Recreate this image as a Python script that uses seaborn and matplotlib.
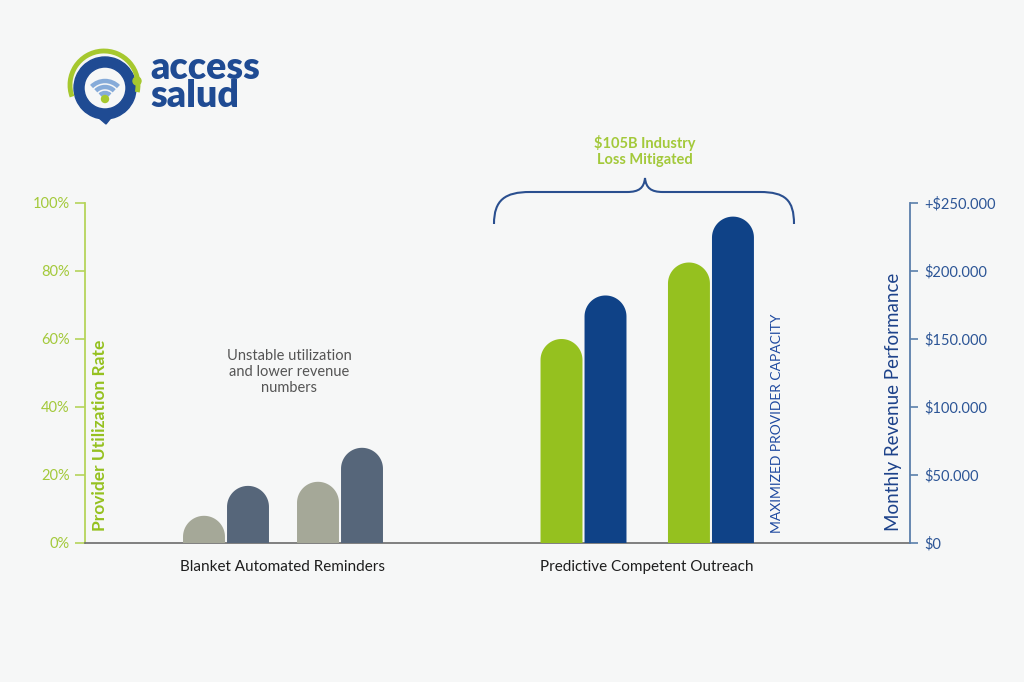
import matplotlib
matplotlib.use("Agg")
import numpy as np
import pandas as pd
import seaborn as sns
import matplotlib.pyplot as plt
from matplotlib.path import Path
from matplotlib.patches import PathPatch, Circle, Arc, Wedge, Polygon

# ---------------- data ----------------
approaches = ["Blanket Automated Reminders", "Blanket Automated Reminders",
              "Predictive Competent Outreach", "Predictive Competent Outreach"]
periods = ["Before 1", "Before 2", "After 1", "After 2"]
utilization = [8, 18, 60, 82.5]            # % (left axis)
revenue = [42000, 70000, 182000, 240000]   # $ (right axis)
util_ticks = [0, 20, 40, 60, 80, 100]
util_tick_labels = ["0%", "20%", "40%", "60%", "80%", "100%"]
rev_ticks = [0, 50000, 100000, 150000, 200000, 250000]
rev_tick_labels = ["$0", "$50.000", "$100.000", "$150.000", "$200.000", "+$250.000"]
group_labels = ["Blanket Automated Reminders", "Predictive Competent Outreach"]

# ---------------- layout / style ----------------
slot_pos = [0.0, 1.0, 3.136, 4.254]
offset = 0.193
GREEN = "#95c11f"
GREEN_TXT = "#a3c93a"
BLUE = "#0f4287"
GRAY = "#a5a898"
SLATE = "#56667a"

sns.set_style("white")
plt.rcParams["font.family"] = ["Lato", "DejaVu Sans"]

fig = plt.figure(figsize=(10.24, 6.82), dpi=100)
fig.patch.set_facecolor("#f6f7f7")
W, H = 1024, 682
ax = fig.add_axes([85 / W, 1 - 543 / H, 825 / W, 340 / H])
ax.set_facecolor("none")
ax2 = ax.twinx()

df_u = pd.DataFrame({"x": [p - offset for p in slot_pos], "val": utilization,
                     "approach": approaches, "period": periods})
df_r = pd.DataFrame({"x": [p + offset for p in slot_pos], "val": revenue,
                     "approach": approaches, "period": periods})

sns.barplot(data=df_u, x="x", y="val", hue="approach", native_scale=True, dodge=False,
            palette={group_labels[0]: GRAY, group_labels[1]: GREEN}, width=0.368,
            errorbar=None, legend=False, ax=ax, saturation=1)
sns.barplot(data=df_r, x="x", y="val", hue="approach", native_scale=True, dodge=False,
            palette={group_labels[0]: SLATE, group_labels[1]: BLUE}, width=0.368,
            errorbar=None, legend=False, ax=ax2, saturation=1)

xlim = ((85 - 226) / 114, (910 - 226) / 114)
ax.set_xlim(*xlim)
ax2.set_xlim(*xlim)
ax.set_ylim(0, 100)
ax2.set_ylim(0, 250000)


def round_tops(a):
    fig.canvas.draw()
    bb = a.get_window_extent()
    x0, x1 = a.get_xlim()
    y0, y1 = a.get_ylim()
    ppx = bb.width / (x1 - x0)
    ppy = bb.height / (y1 - y0)
    for p in list(a.patches):
        x, w, h = p.get_x(), p.get_width(), p.get_height()
        fc = p.get_facecolor()
        p.remove()
        r = w / 2
        ry = r * ppx / ppy
        cx = x + r
        t = np.linspace(np.pi, 0, 40)
        verts = [(x, 0), (x, h - ry)]
        verts += [(cx + r * np.cos(tt), h - ry + ry * np.sin(tt)) for tt in t]
        verts += [(x + w, 0), (x, 0)]
        codes = [Path.MOVETO] + [Path.LINETO] * (len(verts) - 2) + [Path.CLOSEPOLY]
        a.add_patch(PathPatch(Path(verts, codes), facecolor=fc, edgecolor="none", zorder=3))


round_tops(ax)
round_tops(ax2)

# spines & ticks
for s in ["top", "right"]:
    ax.spines[s].set_visible(False)
for s in ["top", "left", "bottom"]:
    ax2.spines[s].set_visible(False)
ax.spines["left"].set_color("#b5d45a")
ax.spines["left"].set_linewidth(1.3)
ax.spines["bottom"].set_color("#6b6b6b")
ax.spines["bottom"].set_linewidth(1.2)
ax2.spines["right"].set_color("#5b7fab")
ax2.spines["right"].set_linewidth(1.3)

ax.set_yticks(util_ticks)
ax.set_yticklabels(util_tick_labels)
ax.tick_params(axis="y", left=True, direction="out", length=7, width=1.2,
               color="#b5d45a", labelcolor=GREEN_TXT, labelsize=10.5, pad=4)
ax2.set_yticks(rev_ticks)
ax2.set_yticklabels(rev_tick_labels)
ax2.tick_params(axis="y", right=True, direction="out", length=6, width=1.2,
                color="#5b7fab", labelcolor="#2c5596", labelsize=10.5, pad=4)

ax.set_xticks([0.5, 3.695])
ax.set_xticklabels(group_labels)
ax.tick_params(axis="x", bottom=False, length=0, labelsize=11, labelcolor="#1e1e1e", pad=12)
ax.set_xlabel("")
ax.set_ylabel("")
ax2.set_ylabel("")

# axis titles inside plot
ax.text((100 - 85) / 825, 0.035, "Provider Utilization Rate", transform=ax.transAxes,
        rotation=90, ha="center", va="bottom", color=GREEN, fontsize=12.5, fontweight="bold")
ax.text((893 - 85) / 825, 0.035, "Monthly Revenue Performance", transform=ax.transAxes,
        rotation=90, ha="center", va="bottom", color="#1d428a", fontsize=13.5)
ax.text((777 - 85) / 825, 0.03, "MAXIMIZED PROVIDER CAPACITY", transform=ax.transAxes,
        rotation=90, ha="center", va="bottom", color="#1f4aa0", fontsize=10)

# overlay in pixel coordinates
ov = fig.add_axes([0, 0, 1, 1])
ov.set_xlim(0, W)
ov.set_ylim(H, 0)
ov.axis("off")
ov.patch.set_alpha(0)

ov.text(289, 372, "Unstable utilization\nand lower revenue\nnumbers", ha="center", va="center",
        color="#555555", fontsize=10.5, linespacing=1.15)
ov.text(645, 151, "$105B Industry\nLoss Mitigated", ha="center", va="center",
        color=GREEN_TXT, fontsize=10.5, fontweight="bold", linespacing=1.2)

# brace
bv = [(494, 224), (494, 200), (505, 192), (530, 192), (627, 192),
      (639, 192), (644, 188), (645, 178),
      (646, 188), (651, 192), (663, 192), (760, 192),
      (785, 192), (794, 200), (794, 224)]
bc = [Path.MOVETO, Path.CURVE4, Path.CURVE4, Path.CURVE4, Path.LINETO,
      Path.CURVE4, Path.CURVE4, Path.CURVE4,
      Path.CURVE4, Path.CURVE4, Path.CURVE4, Path.LINETO,
      Path.CURVE4, Path.CURVE4, Path.CURVE4]
ov.add_patch(PathPatch(Path(bv, bc), facecolor="none", edgecolor="#2a4f8f", lw=1.5))

# logo
LB = "#1f4b93"
ov.add_patch(Wedge((105, 88), 31, 0, 360, width=10, color=LB))
ov.add_patch(Polygon([(92, 112), (114, 114), (106, 124)], closed=True, color=LB))
ov.add_patch(Arc((104, 85), 68, 68, theta1=160, theta2=12, color="#a6c82e", lw=3.5))
ov.add_patch(Circle((137, 81), 4, color="#a6c82e"))
for r in (7, 13, 19):
    ov.add_patch(Arc((105, 100), 2 * r, 2 * r, theta1=225, theta2=315, color="#86abd9", lw=3.2))
ov.add_patch(Circle((105, 99), 3.5, color="#a6c82e"))
ov.text(150, 82, "access\nsalud", ha="left", va="center", color=LB, fontsize=27,
        fontweight="heavy", linespacing=0.82)

fig.savefig("out.png", dpi=100, facecolor=fig.get_facecolor())
